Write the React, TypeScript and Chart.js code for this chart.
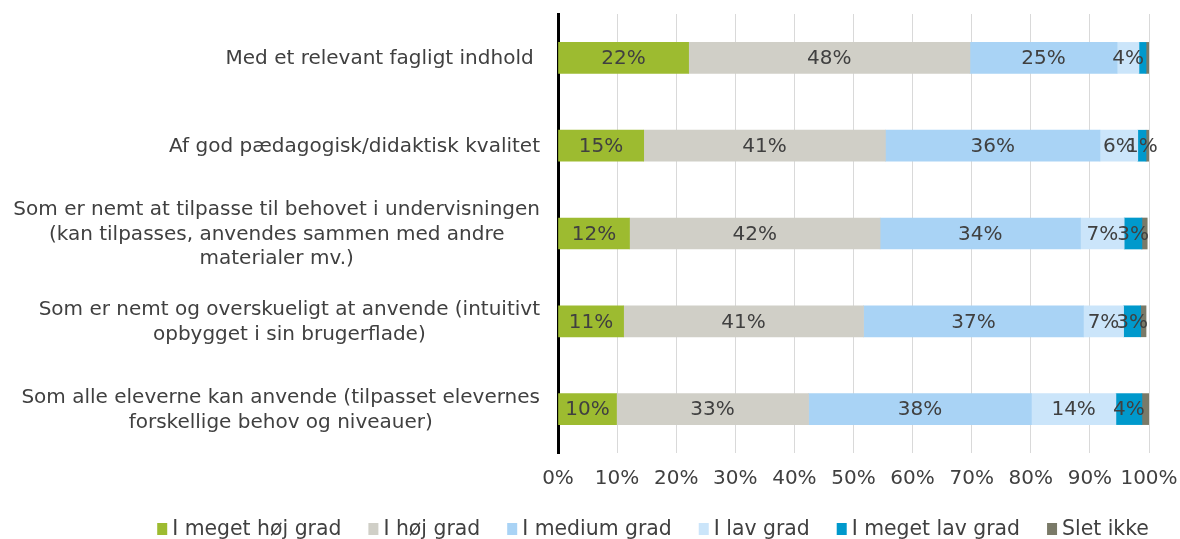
import React, { useEffect, useRef } from 'react';
import { Chart, registerables } from 'chart.js';

Chart.register(...registerables);

const FONT = '"DejaVu Sans", Verdana, sans-serif';
const TEXT = '#404040';

const categories: string[][] = [
  ['Med et relevant fagligt indhold '],
  ['Af god pædagogisk/didaktisk kvalitet'],
  ['Som er nemt at tilpasse til behovet i undervisningen', '(kan tilpasses, anvendes sammen med andre', 'materialer mv.)'],
  ['Som er nemt og overskueligt at anvende (intuitivt', 'opbygget i sin brugerflade)'],
  ['Som alle eleverne kan anvende (tilpasset elevernes', 'forskellige behov og niveauer)'],
];

const seriesNames = ['I meget høj grad', 'I høj grad', 'I medium grad', 'I lav grad', 'I meget lav grad', 'Slet ikke'];
const seriesColors = ['#9DBB30', '#D0CFC7', '#A9D3F5', '#CBE5FA', '#0099CC', '#7A7A68'];

const megetHoej = [22.1, 14.5, 12.1, 11.1, 9.9];
const hoej = [47.6, 40.9, 42.4, 40.6, 32.5];
const medium = [24.9, 36.3, 33.9, 37.2, 37.7];
const lav = [3.7, 6.4, 7.4, 6.8, 14.3];
const megetLav = [1.2, 1.4, 3.0, 2.9, 4.4];
const sletIkke = [0.5, 0.5, 0.9, 0.9, 1.2];

const xTicks = [0, 10, 20, 30, 40, 50, 60, 70, 80, 90, 100];
const LABEL_MIN = 1.3;

export default function App() {
  const ref = useRef<HTMLCanvasElement | null>(null);

  useEffect(() => {
    const canvas = ref.current;
    if (!canvas) return;
    const values = [megetHoej, hoej, medium, lav, megetLav, sletIkke];

    const labelsPlugin = {
      id: 'customLabels',
      afterDatasetsDraw(chart: any) {
        const ctx = chart.ctx;
        ctx.save();
        ctx.font = `20px ${FONT}`;
        ctx.fillStyle = TEXT;
        ctx.textAlign = 'center';
        ctx.textBaseline = 'middle';
        chart.data.datasets.forEach((ds: any, di: number) => {
          const meta = chart.getDatasetMeta(di);
          meta.data.forEach((bar: any, i: number) => {
            const v = ds.data[i];
            if (v < LABEL_MIN) return;
            const x = (bar.x + bar.base) / 2;
            ctx.fillText(Math.round(v) + '%', x, bar.y + 1);
          });
        });
        ctx.restore();
      },
      afterDraw(chart: any) {
        const ctx = chart.ctx;
        const y = chart.scales.y;
        const right = 540;
        const lh = 24.5;
        ctx.save();
        ctx.font = `20px ${FONT}`;
        ctx.fillStyle = TEXT;
        ctx.textAlign = 'center';
        ctx.textBaseline = 'middle';
        categories.forEach((lines, i) => {
          const cy = y.getPixelForValue(i);
          const w = Math.max(...lines.map((l) => ctx.measureText(l).width));
          const cx = right - w / 2;
          const top = cy - ((lines.length - 1) * lh) / 2 + 1;
          lines.forEach((l, k) => ctx.fillText(l, cx, top + k * lh));
        });

        // legend
        ctx.font = `20.4px ${FONT}`;
        ctx.textAlign = 'left';
        const ds = chart.data.datasets;
        const boxW = 10;
        const boxH = 12;
        const textOff = 15;
        const gap = 27;
        const widths = ds.map((d: any) => ctx.measureText(d.label).width);
        const total = widths.reduce((a: number, w: number) => a + textOff + w, 0) + gap * (ds.length - 1);
        let x = 653 - total / 2;
        const ly = 529;
        ds.forEach((d: any, i: number) => {
          ctx.fillStyle = d.backgroundColor;
          ctx.fillRect(x, ly - boxH / 2, boxW, boxH);
          ctx.fillStyle = TEXT;
          ctx.fillText(d.label, x + textOff, ly + 1);
          x += textOff + widths[i] + gap;
        });
        ctx.restore();
      },
    };

    const chart = new Chart(canvas, {
      type: 'bar',
      data: {
        labels: categories.map((c) => c.join(' ')),
        datasets: values.map((d, i) => ({
          label: seriesNames[i],
          data: d,
          backgroundColor: seriesColors[i],
          borderWidth: 0,
          barThickness: 31,
        })),
      },
      options: {
        indexAxis: 'y',
        responsive: false,
        animation: false,
        layout: { padding: { left: 142, right: 31, top: 14, bottom: 34 } },
        scales: {
          x: {
            stacked: true,
            min: 0,
            max: 100,
            afterBuildTicks: (scale: any) => {
              scale.ticks = xTicks.map((v) => ({ value: v }));
            },
            afterFit: (scale: any) => {
              scale.paddingRight = 0;
              scale.paddingLeft = 0;
            },
            ticks: {
              callback: (v: any) => v + '%',
              font: { family: FONT, size: 20 },
              color: TEXT,
              padding: 14,
              maxRotation: 0,
              autoSkip: false,
            },
            grid: { color: '#D9D9D9', drawTicks: false },
            border: { display: false },
          },
          y: {
            stacked: true,
            afterFit: (scale: any) => {
              scale.width = 416;
            },
            ticks: { display: false },
            grid: { display: false, drawTicks: false },
            border: { display: true, color: '#000000', width: 3 },
          },
        },
        plugins: {
          legend: { display: false },
          tooltip: { enabled: false },
        },
      },
      plugins: [labelsPlugin],
    } as any);

    return () => chart.destroy();
  }, []);

  return (
    <div style={{ position: 'fixed', left: 0, top: 0, width: 1180, height: 539, overflow: 'hidden', background: '#fff' }}>
      <canvas ref={ref} width={1180} height={539} style={{ display: 'block' }} />
    </div>
  );
}
